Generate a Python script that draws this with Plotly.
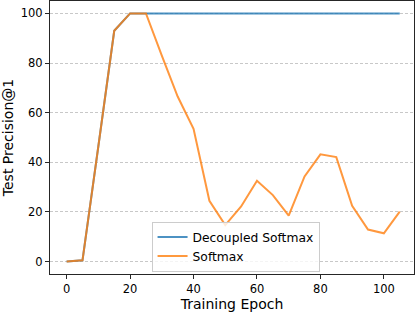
import plotly.graph_objects as go

epochs = [0, 5, 10, 15, 20, 25, 30, 35, 40, 45, 50, 55, 60, 65, 70, 75, 80, 85, 90, 95, 100, 105]
decoupled = [0, 0.5, 46.5, 93, 100, 100, 100, 100, 100, 100, 100, 100, 100, 100, 100, 100, 100, 100, 100, 100, 100, 100]
softmax = [0, 0.5, 46.5, 93, 100, 100, 83, 66.5, 53.5, 24.5, 14.7, 22.2, 32.6, 26.8, 18.5, 34.3, 43.2, 42.1, 22.5, 12.9, 11.4, 20.1]
x_ticks = [0, 20, 40, 60, 80, 100]
y_ticks = [0, 20, 40, 60, 80, 100]

FONT = "DejaVu Sans"

fig = go.Figure()
fig.add_trace(go.Scatter(x=epochs, y=decoupled, mode="lines", name="Decoupled Softmax",
                         line=dict(color="#1f77b4", width=2), opacity=0.8))
fig.add_trace(go.Scatter(x=epochs, y=softmax, mode="lines", name="Softmax",
                         line=dict(color="#ff7f0e", width=2), opacity=0.8))

axis_common = dict(showline=True, linecolor="#262626", linewidth=1, mirror=True,
                   ticks="outside", ticklen=4, tickcolor="#262626", tickwidth=1,
                   zeroline=False, automargin=False,
                   tickfont=dict(family=FONT, size=11.5, color="black"))

fig.update_xaxes(range=[-5.25, 109.5], tickvals=x_ticks, showgrid=False,
                 title=dict(text="Training Epoch", font=dict(family=FONT, size=14, color="black"), standoff=4),
                 **axis_common)
fig.update_yaxes(range=[-5, 105], tickvals=y_ticks, showgrid=True, gridcolor="#c8c8c8",
                 gridwidth=1, griddash="3px,2px",
                 title=dict(text="Test Precision@1", font=dict(family=FONT, size=14, color="black"), standoff=6),
                 **axis_common)

fig.update_layout(
    width=420, height=312,
    margin=dict(l=50, r=6, t=1, b=38),
    plot_bgcolor="white", paper_bgcolor="white",
    font=dict(family=FONT, color="black"),
    legend=dict(x=0.279, y=0.009, xanchor="left", yanchor="bottom",
                bgcolor="rgba(255,255,255,0.8)", bordercolor="#cccccc", borderwidth=1,
                font=dict(family=FONT, size=12.3, color="black"),
                itemwidth=30, tracegroupgap=0),
)

fig.write_html("out.html", config={"displayModeBar": False},
               post_script="document.body.style.margin='0';")
